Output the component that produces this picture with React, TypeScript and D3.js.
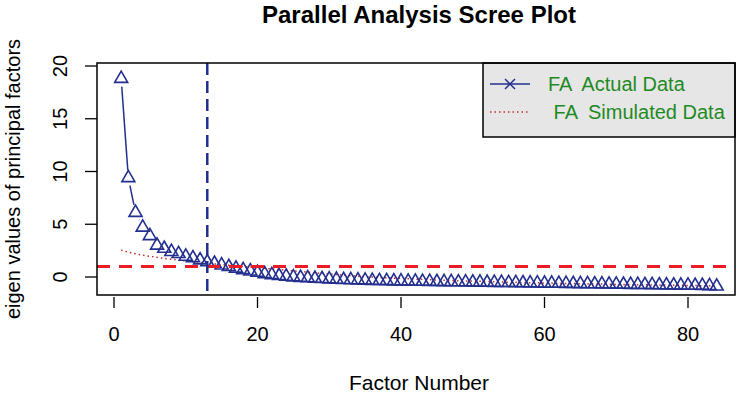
import React, { useEffect, useRef } from "react";
import * as d3 from "d3";

// eigen values (factor 1..84)
const actualEigen = [
  18.8, 9.4, 6.1, 4.7, 3.9, 3.0, 2.7, 2.4, 2.2, 1.95,
  1.8, 1.6, 1.42, 1.28, 1.12, 0.97, 0.82, 0.68, 0.55, 0.42,
  0.3, 0.2, 0.12, 0.05, -0.01, -0.06, -0.1, -0.14, -0.17, -0.2,
  -0.23, -0.26, -0.28, -0.3, -0.32, -0.34, -0.36, -0.37, -0.39, -0.4,
  -0.41, -0.42, -0.43, -0.44, -0.45, -0.46, -0.47, -0.48, -0.49, -0.5,
  -0.51, -0.52, -0.53, -0.54, -0.55, -0.56, -0.57, -0.58, -0.59, -0.6,
  -0.61, -0.62, -0.63, -0.64, -0.65, -0.66, -0.67, -0.68, -0.69, -0.7,
  -0.71, -0.72, -0.73, -0.74, -0.75, -0.76, -0.77, -0.78, -0.79, -0.8,
  -0.81, -0.82, -0.84, -0.88,
];

const simulatedEigen = [
  2.55, 2.35, 2.2, 2.07, 1.96, 1.86, 1.77, 1.68, 1.6, 1.52,
  1.45, 1.38, 1.31, 1.24, 1.18, 1.12, 1.06, 1.0, 0.94, 0.88,
  0.82, 0.76, 0.7, 0.64, 0.58, 0.52, 0.46, 0.4, 0.34, 0.28,
  0.23, 0.18, 0.13, 0.08, 0.04, 0.0, -0.04, -0.08, -0.11, -0.14,
  -0.17, -0.2, -0.23, -0.26, -0.28, -0.3, -0.33, -0.35, -0.37, -0.39,
  -0.41, -0.43, -0.45, -0.47, -0.49, -0.5, -0.52, -0.54, -0.55, -0.57,
  -0.58, -0.6, -0.61, -0.62, -0.64, -0.65, -0.66, -0.67, -0.69, -0.7,
  -0.71, -0.72, -0.73, -0.74, -0.75, -0.76, -0.77, -0.78, -0.79, -0.8,
  -0.81, -0.82, -0.84, -0.86,
];

const xTicks = [0, 20, 40, 60, 80];
const yTicks = [0, 5, 10, 15, 20];
const suggestedFactors = 13;
const kaiserLine = 1;
const legendLabels = ["FA  Actual Data", " FA  Simulated Data"];

function App() {
  const svgRef = useRef(null);

  let width = 744;
  let height = 395;
  let frame = { left: 97, right: 735, top: 63, bottom: 295 };

  let navy = "#232f8e";
  let red = "#ec1c24";
  let green = "#1f8a24";
  let font = "'Liberation Sans', Arial, sans-serif";

  useEffect(() => {
    let svg = d3.select(svgRef.current);
    svg.selectAll("*").remove();

    let x = d3.scaleLinear().domain([0, 80]).range([114, 688]);
    let y = d3.scaleLinear().domain([0, 20]).range([277, 66]);

    // title
    svg
      .append("text")
      .attr("x", 419)
      .attr("y", 23)
      .attr("text-anchor", "middle")
      .style("font-family", font)
      .style("font-weight", "bold")
      .style("font-size", "24px")
      .text("Parallel Analysis Scree Plot");

    // axis labels
    svg
      .append("text")
      .attr("x", 419)
      .attr("y", 390)
      .attr("text-anchor", "middle")
      .style("font-family", font)
      .style("font-size", "21px")
      .text("Factor Number");

    svg
      .append("text")
      .attr("text-anchor", "middle")
      .attr("transform", "translate(20," + (frame.top + frame.bottom) / 2 + "), rotate(-90)")
      .style("font-family", font)
      .style("font-size", "20px")
      .text("eigen values of principal factors");

    // x axis
    xTicks.forEach((t) => {
      svg
        .append("line")
        .attr("x1", x(t))
        .attr("x2", x(t))
        .attr("y1", frame.bottom + 2)
        .attr("y2", frame.bottom + 13)
        .attr("stroke", "#000")
        .attr("stroke-width", 1.3);
      svg
        .append("text")
        .attr("x", x(t))
        .attr("y", 341)
        .attr("text-anchor", "middle")
        .style("font-family", font)
        .style("font-size", "20px")
        .text(t);
    });

    // y axis
    yTicks.forEach((t) => {
      svg
        .append("line")
        .attr("x1", frame.left - 12)
        .attr("x2", frame.left)
        .attr("y1", y(t))
        .attr("y2", y(t))
        .attr("stroke", "#000")
        .attr("stroke-width", 1.3);
      svg
        .append("text")
        .attr("text-anchor", "middle")
        .attr("transform", "translate(67," + y(t) + "), rotate(-90)")
        .style("font-family", font)
        .style("font-size", "20px")
        .text(t);
    });

    // simulated data, dotted
    let simLine = d3
      .line()
      .x((d, i) => x(i + 1))
      .y((d) => y(d));

    svg
      .append("path")
      .attr("d", simLine(simulatedEigen))
      .attr("fill", "none")
      .attr("stroke", "#c8282c")
      .attr("stroke-width", 1.5)
      .attr("stroke-dasharray", "1.5,3");

    // actual data: lines with gaps around the points (type "b")
    let gap = 8;
    let pts = actualEigen.map((d, i) => [x(i + 1), y(d)]);
    for (let i = 0; i < pts.length - 1; i++) {
      let [x0, y0] = pts[i];
      let [x1, y1] = pts[i + 1];
      let len = Math.hypot(x1 - x0, y1 - y0);
      if (len <= 2 * gap) continue;
      let ux = (x1 - x0) / len;
      let uy = (y1 - y0) / len;
      svg
        .append("line")
        .attr("x1", x0 + ux * gap)
        .attr("y1", y0 + uy * gap)
        .attr("x2", x1 - ux * gap)
        .attr("y2", y1 - uy * gap)
        .attr("stroke", navy)
        .attr("stroke-width", 1.5);
    }

    // triangles
    let tri = (cx, cy) =>
      "M" + cx + "," + (cy - 7.5) +
      "L" + (cx + 6.5) + "," + (cy + 3.75) +
      "L" + (cx - 6.5) + "," + (cy + 3.75) + "Z";

    svg
      .selectAll(".pt")
      .data(pts)
      .enter()
      .append("path")
      .classed("pt", 1)
      .attr("d", (d) => tri(d[0], d[1]))
      .attr("fill", "none")
      .attr("stroke", navy)
      .attr("stroke-width", 1.6);

    // red reference line at eigen value 1
    svg
      .append("line")
      .attr("x1", frame.left)
      .attr("x2", frame.right)
      .attr("y1", y(kaiserLine))
      .attr("y2", y(kaiserLine))
      .attr("stroke", red)
      .attr("stroke-width", 3)
      .attr("stroke-dasharray", "13,9");

    // vertical line at suggested number of factors
    svg
      .append("line")
      .attr("x1", x(suggestedFactors))
      .attr("x2", x(suggestedFactors))
      .attr("y1", frame.top)
      .attr("y2", frame.bottom)
      .attr("stroke", navy)
      .attr("stroke-width", 2.5)
      .attr("stroke-dasharray", "12,6");

    // legend
    let lg = { left: 483, top: 63, right: frame.right, bottom: 137 };
    svg
      .append("rect")
      .attr("x", lg.left)
      .attr("y", lg.top)
      .attr("width", lg.right - lg.left)
      .attr("height", lg.bottom - lg.top)
      .attr("fill", "#e6e6e6")
      .attr("stroke", "#000")
      .attr("stroke-width", 1.5);

    svg
      .append("line")
      .attr("x1", 490)
      .attr("x2", 530)
      .attr("y1", 84)
      .attr("y2", 84)
      .attr("stroke", navy)
      .attr("stroke-width", 1.5);
    svg
      .append("path")
      .attr("d", "M505,79L515,89M505,89L515,79")
      .attr("stroke", navy)
      .attr("stroke-width", 1.5);

    svg
      .append("line")
      .attr("x1", 490)
      .attr("x2", 530)
      .attr("y1", 112)
      .attr("y2", 112)
      .attr("stroke", "#c8282c")
      .attr("stroke-width", 1.5)
      .attr("stroke-dasharray", "1.5,3");

    legendLabels.forEach((lab, i) => {
      svg
        .append("text")
        .attr("x", 548)
        .attr("y", 91 + i * 28)
        .style("font-family", font)
        .style("font-size", "20px")
        .style("white-space", "pre")
        .attr("fill", green)
        .text(lab);
    });

    // frame
    svg
      .append("rect")
      .attr("x", frame.left)
      .attr("y", frame.top)
      .attr("width", frame.right - frame.left)
      .attr("height", frame.bottom - frame.top)
      .attr("fill", "none")
      .attr("stroke", "#000")
      .attr("stroke-width", 1.5);
  }, []);

  return (
    <svg
      ref={svgRef}
      width={width}
      height={height}
      style={{ position: "absolute", left: 0, top: 0, background: "#fff" }}
    ></svg>
  );
}

export default App;
